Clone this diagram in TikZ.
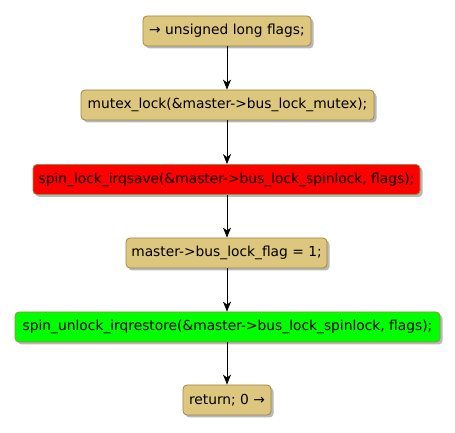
\documentclass[tikz,border=0pt]{standalone}
\usepackage{fontspec}
\setmainfont{DejaVu Sans}
\usetikzlibrary{shadows,arrows.meta}
\definecolor{tan}{HTML}{DDC67D}
\definecolor{tanborder}{HTML}{9E8A45}
\definecolor{redfill}{HTML}{FF0000}
\definecolor{greenfill}{HTML}{00FF00}
\tikzset{
  act/.style={draw=tanborder, line width=0.8pt, rounded corners=4pt, fill=tan,
    inner sep=0pt, minimum height=30pt, font=\fontsize{13.8}{16}\selectfont,
    drop shadow={shadow xshift=2.5pt, shadow yshift=-2.5pt, fill=black!35, opacity=0.8}},
  flow/.style={line width=0.8pt, -{Stealth[length=10pt, width=8pt, inset=3pt]}}
}
\begin{document}
\begin{tikzpicture}[x=1pt,y=1pt]
\useasboundingbox (0,0) rectangle (455,433);
\node[act, minimum width=168pt] (a) at (227,402) {→ unsigned long flags;};
\node[act, minimum width=293pt] (b) at (227.5,328) {mutex\_lock(\&master->bus\_lock\_mutex);};
\node[act, minimum width=387pt, fill=redfill] (c) at (226.5,253.5) {spin\_lock\_irqsave(\&master->bus\_lock\_spinlock, flags);};
\node[act, minimum width=201pt] (d) at (226.5,180) {master->bus\_lock\_flag = 1;};
\node[act, minimum width=425pt, fill=greenfill] (e) at (227.5,106) {spin\_unlock\_irqrestore(\&master->bus\_lock\_spinlock, flags);};
\node[act, minimum width=88pt] (f) at (227,33) {return; 0 →};
\draw[flow] (a.south -| 227,0) -- (b.north -| 227,0);
\draw[flow] (b.south -| 227,0) -- (c.north -| 227,0);
\draw[flow] (c.south -| 227,0) -- (d.north -| 227,0);
\draw[flow] (d.south -| 227,0) -- (e.north -| 227,0);
\draw[flow] (e.south -| 227,0) -- (f.north -| 227,0);
\end{tikzpicture}
\end{document}
